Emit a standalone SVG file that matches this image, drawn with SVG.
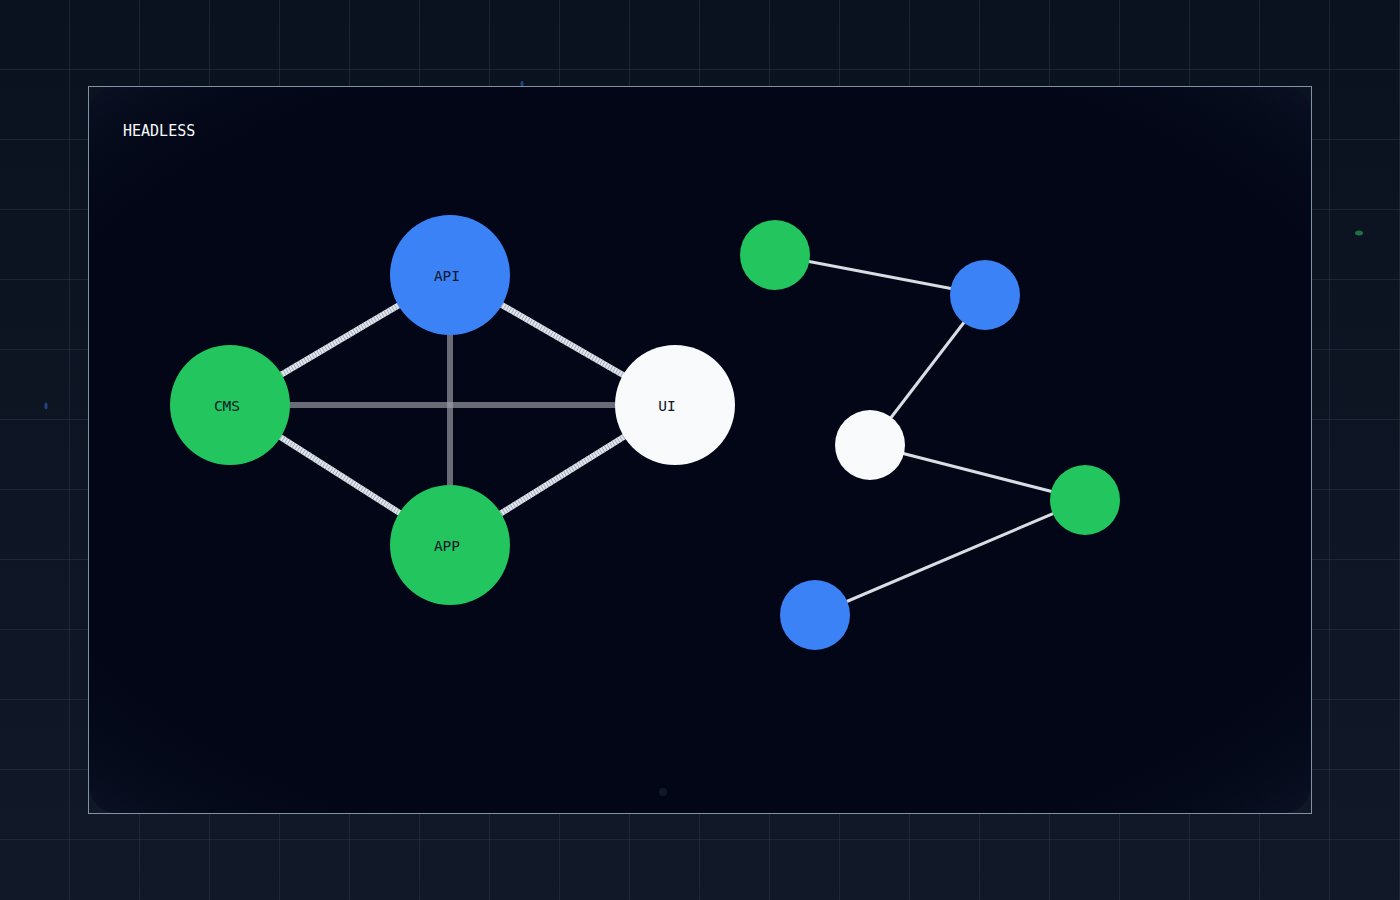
<svg xmlns="http://www.w3.org/2000/svg" width="1400" height="900" viewBox="0 0 1400 900">
<defs>
<linearGradient id="bg" x1="0" y1="0" x2="0" y2="1">
<stop offset="0" stop-color="#0a1220"/>
<stop offset="1" stop-color="#111827"/>
</linearGradient>
<pattern id="grid" width="70" height="70" patternUnits="userSpaceOnUse">
<path d="M70 0V70M0 70H70" fill="none" stroke="#2c3849" stroke-width="1"/>
</pattern>
<radialGradient id="vig" cx="0.5" cy="0.5" r="0.7">
<stop offset="0.75" stop-color="#020617" stop-opacity="0"/>
<stop offset="1" stop-color="#1e293b" stop-opacity="0.3"/>
</radialGradient>
</defs>
<style>
.lbl{font-family:"DejaVu Sans Mono","Liberation Mono",monospace;font-size:14.5px;fill:#0f172a;text-anchor:middle}
.title{font-family:"DejaVu Sans Mono","Liberation Mono",monospace;font-size:15px;fill:#f8fafc}
.strong{stroke:#e2e8f0;stroke-width:6;stroke-linecap:butt}
.stripe{stroke:#a3a9b2;stroke-width:6;stroke-dasharray:1 2}
.weak{stroke:#a1a1aa;stroke-width:6;stroke-opacity:0.65}
.thin{stroke:#d8dde4;stroke-width:3}
.blue{fill:#3b82f6}.green{fill:#22c55e}.white{fill:#f8fafc}
</style>
<rect width="1400" height="900" fill="url(#bg)"/>
<rect width="1400" height="900" fill="url(#grid)"/>
<ellipse cx="522" cy="84" rx="1.5" ry="3" fill="#2b5aa8" opacity="0.7"/>
<ellipse cx="46" cy="406" rx="1.5" ry="3.5" fill="#2b5aa8" opacity="0.7"/>
<ellipse cx="1359" cy="233" rx="4" ry="2.5" fill="#1f8a4c" opacity="0.8"/>
<rect x="88.5" y="86.5" width="1223" height="727" rx="30" fill="#020617"/>
<rect x="88.5" y="86.5" width="1223" height="727" rx="30" fill="url(#vig)"/>
<rect x="88.5" y="86.5" width="1223" height="727" fill="none" stroke="#8391a5" stroke-width="1"/>
<ellipse cx="663" cy="792" rx="4" ry="4" fill="#1e293b" opacity="0.5"/>
<text class="title" x="123" y="136">HEADLESS</text>
<g id="connectors">
<line class="weak" x1="230" y1="405" x2="675" y2="405"/>
<line class="weak" x1="450" y1="275" x2="450" y2="545"/>
<line class="strong" x1="230" y1="405" x2="450" y2="275"/>
<line class="stripe" x1="230" y1="405" x2="450" y2="275"/>
<line class="strong" x1="450" y1="275" x2="675" y2="405"/>
<line class="stripe" x1="450" y1="275" x2="675" y2="405"/>
<line class="strong" x1="230" y1="405" x2="450" y2="545"/>
<line class="stripe" x1="230" y1="405" x2="450" y2="545"/>
<line class="strong" x1="450" y1="545" x2="675" y2="405"/>
<line class="stripe" x1="450" y1="545" x2="675" y2="405"/>
<line class="thin" x1="775" y1="255" x2="985" y2="295"/>
<line class="thin" x1="985" y1="295" x2="870" y2="445"/>
<line class="thin" x1="870" y1="445" x2="1085" y2="500"/>
<line class="thin" x1="1085" y1="500" x2="815" y2="615"/>
</g>
<g id="api"><circle class="blue" cx="450" cy="275" r="60"/><text class="lbl" x="447" y="281">API</text></g>
<g id="cms"><circle class="green" cx="230" cy="405" r="60"/><text class="lbl" x="227" y="411">CMS</text></g>
<g id="ui"><circle class="white" cx="675" cy="405" r="60"/><text class="lbl" x="667" y="411">UI</text></g>
<g id="app"><circle class="green" cx="450" cy="545" r="60"/><text class="lbl" x="447" y="551">APP</text></g>
<g id="n1"><circle class="green" cx="775" cy="255" r="35"/></g>
<g id="n2"><circle class="blue" cx="985" cy="295" r="35"/></g>
<g id="n3"><circle class="white" cx="870" cy="445" r="35"/></g>
<g id="n4"><circle class="green" cx="1085" cy="500" r="35"/></g>
<g id="n5"><circle class="blue" cx="815" cy="615" r="35"/></g>
</svg>
